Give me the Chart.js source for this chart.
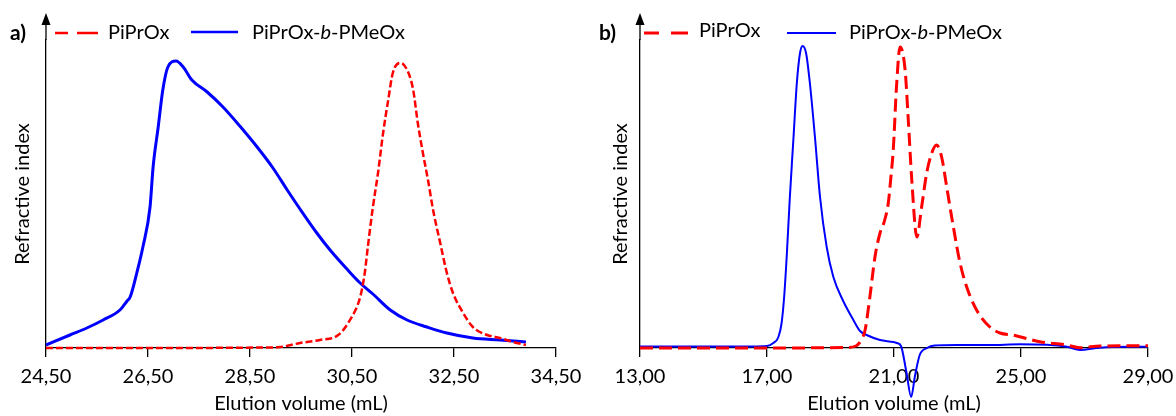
<!DOCTYPE html>
<html>
<head>
<meta charset="utf-8">
<script src="https://cdn.jsdelivr.net/npm/chart.js@4.4.1/dist/chart.umd.min.js"></script>
<style>
  html, body { margin: 0; padding: 0; background: #fff; }
  #wrap { position: relative; width: 1176px; height: 416px; }
  .box { position: absolute; top: 0; width: 588px; height: 416px; }
</style>
</head>
<body>
<div id="wrap">
  <div class="box" style="left:0"><canvas id="chartA" width="588" height="416"></canvas></div>
  <div class="box" style="left:588px"><canvas id="chartB" width="588" height="416"></canvas></div>
</div>
<script>
// panel a) - elution volume (mL) and refractive index (arb. units)
const aTicks = [24.5, 26.5, 28.5, 30.5, 32.5, 34.5];
const aHomoVol = [24.50, 26.50, 28.79, 29.09, 29.48, 29.87, 30.23, 30.46, 30.66, 30.75, 30.81, 30.91, 31.01, 31.11, 31.21, 31.30, 31.45, 31.60, 31.70, 31.79, 31.89, 31.99, 32.09, 32.23, 32.36, 32.48, 32.68, 32.87, 33.15, 33.40, 33.66, 33.91];
const aHomoRI  = [0, 0, 0.5, 1, 5, 8, 13, 28, 51, 75, 101, 141, 175, 215, 248, 275, 285, 276, 258, 225, 195, 168, 138, 105, 75, 55, 35, 21, 13, 10, 6, 3];
const aBlockVol = [24.50, 24.97, 25.30, 25.62, 25.95, 26.09, 26.15, 26.28, 26.40, 26.54, 26.60, 26.70, 26.79, 26.89, 27.05, 27.19, 27.36, 27.66, 27.97, 28.30, 28.64, 28.95, 29.23, 29.48, 29.81, 30.07, 30.40, 30.66, 30.91, 31.25, 31.58, 31.97, 32.36, 32.87, 33.40, 33.91];
const aBlockRI  = [3, 13, 20, 28, 38, 47, 51, 75, 101, 141, 181, 221, 258, 281, 287, 281, 268, 256, 241, 222, 201, 180, 158, 139, 115, 98, 79, 65, 54, 38, 28, 21, 15, 10, 8, 6];

// panel b)
const bTicks = [13, 17, 21, 25, 29];
const bHomoVol = [13.00, 17.00, 19.50, 19.80, 19.97, 20.09, 20.24, 20.40, 20.56, 20.68, 20.82, 20.90, 20.98, 21.08, 21.19, 21.35, 21.45, 21.56, 21.72, 21.87, 22.03, 22.19, 22.34, 22.50, 22.66, 22.87, 23.08, 23.29, 23.60, 24.02, 24.34, 24.74, 25.59, 26.44, 26.86, 27.49, 29.00];
const bHomoRI  = [0, 0, 0.5, 2, 8, 18, 51, 91, 115, 125, 145, 170, 200, 262, 301, 278, 228, 168, 111, 141, 175, 195, 203, 191, 161, 121, 85, 61, 38, 21, 15, 13, 6.3, 3, 0.3, 2, 2.3];
const bBlockVol = [13.00, 16.50, 17.00, 17.20, 17.36, 17.46, 17.54, 17.62, 17.72, 17.83, 17.94, 18.04, 18.12, 18.23, 18.35, 18.51, 18.67, 18.88, 19.09, 19.40, 19.72, 19.93, 20.14, 20.56, 20.98, 21.09, 21.22, 21.39, 21.54, 21.66, 21.81, 22.04, 22.28, 23.00, 24.00, 24.97, 26.44, 26.86, 27.49, 29.00];
const bBlockRI  = [1.5, 1.5, 2, 5, 11, 25, 51, 91, 151, 208, 265, 295, 302, 295, 265, 211, 151, 101, 71, 47, 28, 17, 13, 8, 6, 5, 2, -24, -49, -28, -7, 0, 2.5, 3, 3, 3.7, 1.3, -2, 0.3, 1.3];

const seriesNames = ['PiPrOx', 'PiPrOx-b-PMeOx'];
const FONT = 'Lato';
const RED = '#ff0000', BLUE = '#0000ff';

const pts = (xs, ys) => xs.map((x, i) => ({ x: x, y: ys[i] }));

// axis arrow, panel tag and the legend, drawn on the canvas
const decor = {
  id: 'decor',
  afterDraw(chart, args, o) {
    const ctx = chart.ctx, a = chart.chartArea;
    ctx.save();
    ctx.strokeStyle = '#000';
    ctx.fillStyle = '#000';
    ctx.lineWidth = 1.3;
    ctx.beginPath();
    ctx.moveTo(a.left, a.top);
    ctx.lineTo(a.left, 22);
    ctx.stroke();
    ctx.beginPath();
    ctx.moveTo(a.left, 13);
    ctx.lineTo(a.left - 4.5, 25);
    ctx.lineTo(a.left + 4.5, 25);
    ctx.closePath();
    ctx.fill();

    ctx.textBaseline = 'middle';
    ctx.font = 'bold 21px ' + FONT;
    ctx.fillText(o.tag, o.tagX, 33);

    o.items.forEach(it => {
      ctx.strokeStyle = it.color;
      ctx.lineWidth = it.width;
      it.segs.forEach(s => {
        ctx.beginPath();
        ctx.moveTo(s[0], it.lineY);
        ctx.lineTo(s[1], it.lineY);
        ctx.stroke();
      });
      ctx.fillStyle = '#000';
      let x = it.textX;
      it.parts.forEach(p => {
        ctx.font = p[1] + '20px ' + FONT;
        ctx.fillText(p[0], x, it.textY);
        x += ctx.measureText(p[0]).width;
      });
    });
    ctx.restore();
  }
};

function makeChart(id, c) {
  return new Chart(document.getElementById(id), {
    type: 'line',
    data: { datasets: c.sets },
    plugins: [decor],
    options: {
      responsive: false,
      animation: false,
      layout: { padding: { top: 40, right: c.padRight, left: 0, bottom: 0 } },
      elements: { point: { radius: 0 } },
      plugins: {
        legend: { display: false },
        tooltip: { enabled: false },
        decor: c.decor
      },
      scales: {
        x: {
          type: 'linear',
          min: c.ticks[0],
          max: c.ticks[c.ticks.length - 1],
          afterBuildTicks: s => { s.ticks = c.ticks.map(v => ({ value: v })); },
          afterFit: s => { s.height = 68; s.paddingLeft = 0; s.paddingRight = 0; },
          ticks: {
            color: '#000', padding: 8, maxRotation: 0, autoSkip: false,
            font: { family: FONT, size: 20 },
            callback: v => v.toFixed(2).replace('.', ',')
          },
          grid: { display: true, drawOnChartArea: false, drawTicks: true, tickLength: 9, color: '#000', lineWidth: 1.3 },
          border: { display: true, color: '#000', width: 1.3 },
          title: {
            display: true, text: 'Elution volume (mL)', color: '#000',
            font: { family: FONT, size: 20 }, padding: { top: 0, bottom: 0 }
          }
        },
        y: {
          min: 0,
          max: 308,
          afterFit: s => { s.width = c.left; },
          ticks: { display: false },
          grid: { display: false },
          border: { display: true, color: '#000', width: 1.3 },
          title: {
            display: true, text: 'Refractive index', color: '#000',
            font: { family: FONT, size: 20 }, padding: { top: c.titlePad, bottom: 0 }
          }
        }
      }
    }
  });
}

makeChart('chartA', {
  ticks: aTicks, left: 46, padRight: 32, titlePad: 11,
  sets: [
    { label: seriesNames[0], data: pts(aHomoVol, aHomoRI), borderColor: RED, borderWidth: 2.5,
      borderDash: [7, 3], cubicInterpolationMode: 'monotone', clip: false },
    { label: seriesNames[1], data: pts(aBlockVol, aBlockRI), borderColor: BLUE, borderWidth: 3,
      cubicInterpolationMode: 'monotone', clip: false }
  ],
  decor: {
    tag: 'a)', tagX: 10,
    items: [
      { color: RED, width: 2.5, segs: [[55, 68], [77, 98]], lineY: 33, textX: 108, textY: 33,
        parts: [[seriesNames[0], '']] },
      { color: BLUE, width: 2.5, segs: [[191, 238]], lineY: 32, textX: 252, textY: 33,
        parts: [['PiPrOx-', ''], ['b', 'italic '], ['-PMeOx', '']] }
    ]
  }
});

makeChart('chartB', {
  ticks: bTicks, left: 52, padRight: 28, titlePad: 21,
  sets: [
    { label: seriesNames[0], data: pts(bHomoVol, bHomoRI), borderColor: RED, borderWidth: 3,
      borderDash: [13, 6], cubicInterpolationMode: 'monotone', clip: false },
    { label: seriesNames[1], data: pts(bBlockVol, bBlockRI), borderColor: BLUE, borderWidth: 2,
      cubicInterpolationMode: 'monotone', clip: false }
  ],
  decor: {
    tag: 'b)', tagX: 11,
    items: [
      { color: RED, width: 3, segs: [[56, 71], [83, 100]], lineY: 33, textX: 111, textY: 31,
        parts: [[seriesNames[0], '']] },
      { color: BLUE, width: 2, segs: [[199, 248]], lineY: 33, textX: 261, textY: 33,
        parts: [['PiPrOx-', ''], ['b', 'italic '], ['-PMeOx', '']] }
    ]
  }
});
</script>
</body>
</html>
